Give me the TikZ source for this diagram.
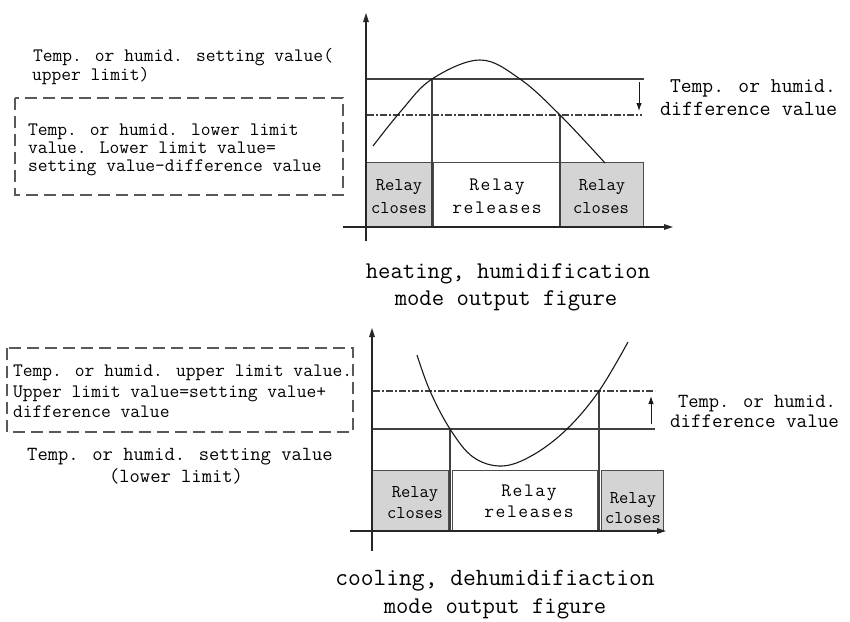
\documentclass[tikz,border=0pt]{standalone}
\usepackage{fontspec}
\usetikzlibrary{arrows.meta}
\newcommand\fsz[1]{\fontsize{#1}{#1}\selectfont}
\newcommand\lk{\kern1.6pt}
\tikzset{
  txt/.style={inner sep=0pt, outer sep=0pt, font=\ttfamily\fsz{19}, text=black, anchor=base west},
  ctxt/.style={txt, anchor=base},
  axisline/.style={draw=black!85, line width=1.2pt, -{Triangle[length=9pt,width=5.5pt]}},
  limline/.style={draw=black!75, line width=1.1pt},
  ddline/.style={limline, dash pattern=on 7pt off 2pt on 2pt off 2pt},
  curveline/.style={draw=black!90, line width=1.1pt},
  relayon/.style={draw=black!70, fill=black!17, line width=1pt},
  relayoff/.style={draw=black!70, fill=white, line width=1pt},
  dbox/.style={draw=black!65, line width=1.4pt, dash pattern=on 12pt off 6pt},
  diffarrow/.style={draw=black!90, line width=1pt, -{Latex[length=8pt,width=5.5pt]}},
  boxtxt/.style={ctxt, font=\ttfamily\fsz{18}},
  midtxt/.style={ctxt, font=\ttfamily\fsz{19}},
  headtxt/.style={ctxt, font=\ttfamily\fsz{24}}
}
\begin{document}
\begin{tikzpicture}[x=1pt,y=-1pt]
\fill[white] (0,0) rectangle (850,621);
\useasboundingbox (0,0) rectangle (850,621);

% ===== top chart =====
\draw[relayon]  (366,162) rectangle (432,227);
\draw[relayoff] (433,162) rectangle (560,227);
\draw[relayon]  (560,162) rectangle (643,227);
\draw[limline] (367,79) -- (644,79);
\draw[ddline] (367,115) -- (642,115);
\draw[limline] (432,79) -- (432,227);
\draw[limline] (560,115) -- (560,227);
\draw[curveline] plot[smooth, tension=0.6] coordinates {(373,146) (401,111) (432,79) (480,60) (520,79) (560,115) (605,163)};
\draw[axisline] (366,241) -- (366,13);
\draw[axisline] (343,227) -- (673,227);
\coordinate (ta1) at (639,82);
\coordinate (ta2) at (639,111);
\draw[diffarrow] (ta1) -- (ta2);

\node[boxtxt] (t1a) at (399,190) {Relay};
\node[boxtxt] (t1b) at (399,213) {closes};
\node[midtxt] (t2a) at (497,190) {R\lk e\lk l\lk a\lk y};
\node[midtxt] (t2b) at (497,213) {r\lk e\lk l\lk e\lk a\lk s\lk e\lk s};
\node[boxtxt] (t3a) at (602,190) {Relay};
\node[boxtxt] (t3b) at (601,213) {closes};

\node[headtxt] (th1) at (508,278) {heating, humidification};
\node[headtxt] (th2) at (506,305) {mode output figure};

\node[txt] (ts1) at (33,61) {Temp. or humid. setting value(};
\node[txt] (ts2) at (32,80) {upper limit)};
\draw[dbox] (15,98) rectangle (343,195);
\node[txt] (tl1) at (28,135) {Temp. or humid. lower limit};
\node[txt] (tl2) at (28,153) {value. Lower limit value=};
\node[txt] (tl3) at (28,171) {setting value-difference value};

\node[txt, font=\ttfamily\fsz{21}] (td1) at (670,92) {Temp. or humid.};
\node[txt, font=\ttfamily\fsz{21.5}] (td2) at (660,115) {difference value};

% ===== bottom chart =====
\draw[relayon]  (372,470) rectangle (448,531);
\draw[relayoff] (452,470) rectangle (597,531);
\draw[relayon]  (601,470) rectangle (663,531);
\draw[ddline] (373,391) -- (655,391);
\draw[limline] (373,429) -- (655,429);
\draw[limline] (450,429) -- (450,531);
\draw[limline] (599,391) -- (599,531);
\draw[curveline] plot[smooth, tension=0.6] coordinates {(417,355) (430,391) (450,429) (473,457) (502,466) (533,455) (567,429) (599,391) (628,342)};
\draw[axisline] (372,551) -- (372,328);
\draw[axisline] (350,531) -- (666,531);
\coordinate (ba1) at (651,424);
\coordinate (ba2) at (651,396);
\draw[diffarrow] (ba1) -- (ba2);

\node[boxtxt] (b1a) at (415,497) {Relay};
\node[boxtxt] (b1b) at (415,518) {closes};
\node[midtxt] (b2a) at (529,496) {R\lk e\lk l\lk a\lk y};
\node[midtxt] (b2b) at (529,517) {r\lk e\lk l\lk e\lk a\lk s\lk e\lk s};
\node[boxtxt] (b3a) at (633,503) {Relay};
\node[boxtxt] (b3b) at (633,523) {closes};

\node[headtxt, font=\ttfamily\fsz{24.8}] (bh1) at (495,585) {cooling, dehumidifiaction};
\node[headtxt] (bh2) at (495,613) {mode output figure};

\draw[dbox] (7,348) rectangle (353,432);
\node[txt] (bl1) at (13,376) {Temp. or humid. upper limit value.};
\node[txt] (bl2) at (13,397) {Upper limit value=setting value+};
\node[txt] (bl3) at (13,417) {difference value};
\node[ctxt, font=\ttfamily\fsz{20}] (bs1) at (180,460) {Temp. or humid. setting value};
\node[ctxt, font=\ttfamily\fsz{20}] (bs2) at (176,482) {(lower limit)};

\node[txt, font=\ttfamily\fsz{20}] (bd1) at (678,407) {Temp. or humid.};
\node[txt, font=\ttfamily\fsz{20.5}] (bd2) at (670,427) {difference value};
\end{tikzpicture}
\end{document}
